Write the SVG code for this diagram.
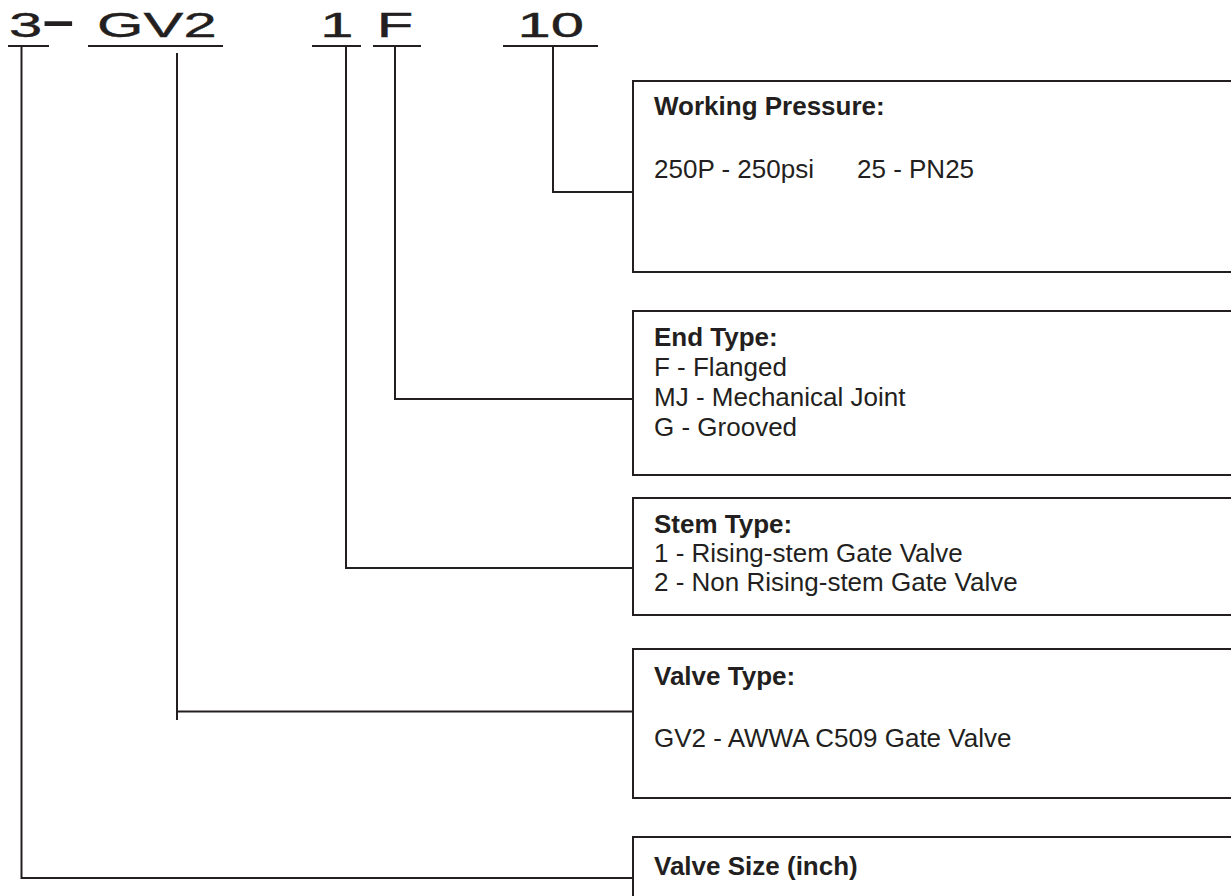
<svg xmlns="http://www.w3.org/2000/svg" width="1231" height="896" viewBox="0 0 1231 896">
<style>
.bg{fill:#ffffff}
.ln{fill:none;stroke:#231f20;stroke-width:2}
.box{fill:#ffffff;stroke:#231f20;stroke-width:2}
.code{font-family:"Liberation Sans",Arial,sans-serif;font-size:36px;fill:#231f20;stroke:#231f20;stroke-width:0.4}
.hd{font-family:"Liberation Sans",Arial,sans-serif;font-size:26px;font-weight:bold;fill:#231f20}
.tx{font-family:"Liberation Sans",Arial,sans-serif;font-size:26px;fill:#231f20}
</style>
<rect class="bg" x="0" y="0" width="1231" height="896"/>
<g id="connectors">
<path class="ln" d="M21.5,46 V878 H633"/>
<path class="ln" d="M177,53 V720 M177,711.5 H633"/>
<path class="ln" d="M346,46 V568 H633"/>
<path class="ln" d="M395,46 V399 H633"/>
<path class="ln" d="M553,46 V192 H633"/>
</g>
<g id="code-size">
<text class="code" transform="translate(9.1,37.3) scale(1.66,1)">3</text>
<text class="code" transform="translate(42.8,32.5) scale(2.6,1)" style="stroke-width:1.8">-</text>
<path class="ln" d="M8,46 H49"/>
</g>
<g id="code-type">
<text class="code" transform="translate(97.1,37.3) scale(1.66,1)">GV2</text>
<path class="ln" d="M88,46 H223"/>
</g>
<g id="code-stem">
<text class="code" transform="translate(320.2,37.3) scale(1.66,1)">1</text>
<path class="ln" d="M312,46 H361"/>
</g>
<g id="code-end">
<text class="code" transform="translate(376.8,37.3) scale(1.66,1)">F</text>
<path class="ln" d="M373,46 H421"/>
</g>
<g id="code-pressure">
<text class="code" transform="translate(517.5,37.3) scale(1.66,1)">10</text>
<path class="ln" d="M503,46 H598"/>
</g>
<g id="box-pressure">
<rect class="box" x="633" y="81" width="620" height="191"/>
<text class="hd" x="654" y="115">Working Pressure:</text>
<text class="tx" x="654" y="178">250P - 250psi<tspan x="857">25 - PN25</tspan></text>
</g>
<g id="box-end">
<rect class="box" x="633" y="311" width="620" height="164"/>
<text class="hd" x="654" y="346">End Type:</text>
<text class="tx" x="654" y="376">F - Flanged</text>
<text class="tx" x="654" y="406">MJ - Mechanical Joint</text>
<text class="tx" x="654" y="436">G - Grooved</text>
</g>
<g id="box-stem">
<rect class="box" x="633" y="498" width="620" height="117"/>
<text class="hd" x="654" y="533">Stem Type:</text>
<text class="tx" x="654" y="562">1 - Rising-stem Gate Valve</text>
<text class="tx" x="654" y="591">2 - Non Rising-stem Gate Valve</text>
</g>
<g id="box-valve-type">
<rect class="box" x="633" y="649" width="620" height="149"/>
<text class="hd" x="654" y="685">Valve Type:</text>
<text class="tx" x="654" y="747">GV2 - AWWA C509 Gate Valve</text>
</g>
<g id="box-size">
<rect class="box" x="633" y="837" width="620" height="80"/>
<text class="hd" x="654" y="875">Valve Size (inch)</text>
</g>
</svg>
